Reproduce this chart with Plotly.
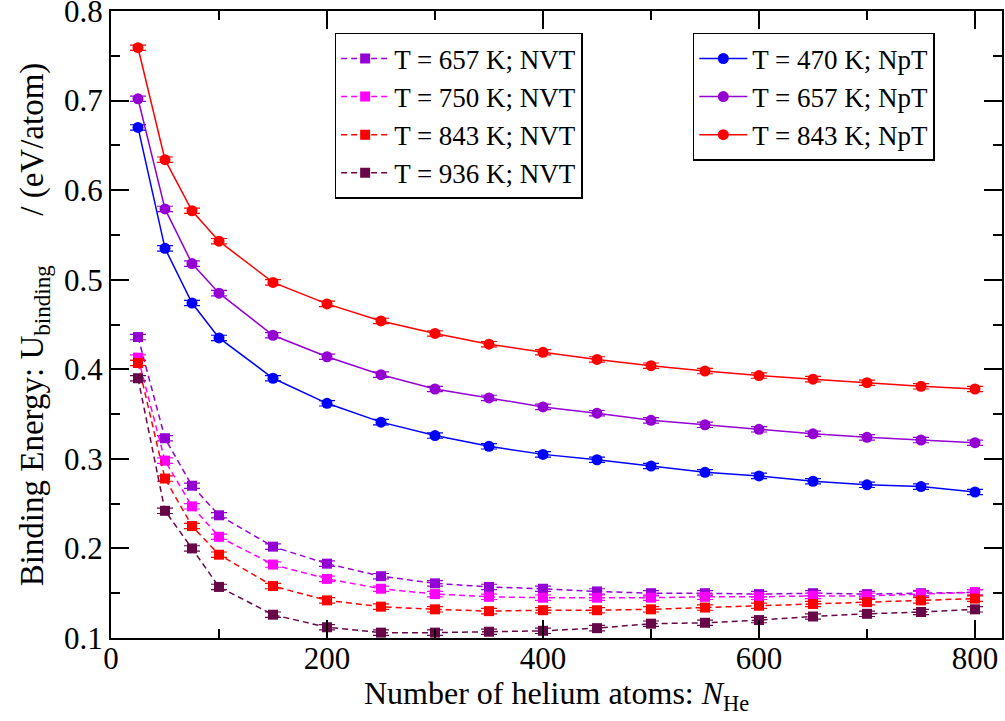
import plotly.graph_objects as go

N = [25, 50, 75, 100, 150, 200, 250, 300, 350, 400, 450, 500, 550, 600, 650, 700, 750, 800]

npt_470 = [0.670, 0.535, 0.474, 0.435, 0.390, 0.362, 0.341, 0.326, 0.314, 0.305, 0.299, 0.292,
           0.285, 0.281, 0.275, 0.271, 0.269, 0.263]
npt_657 = [0.702, 0.579, 0.518, 0.485, 0.438, 0.414, 0.394, 0.378, 0.368, 0.358, 0.351, 0.343,
           0.338, 0.333, 0.328, 0.324, 0.321, 0.318]
npt_843 = [0.759, 0.634, 0.577, 0.543, 0.497, 0.473, 0.454, 0.440, 0.428, 0.419, 0.411, 0.404,
           0.398, 0.393, 0.389, 0.385, 0.381, 0.378]

nvt_657 = [0.436, 0.323, 0.270, 0.237, 0.202, 0.183, 0.169, 0.161, 0.157, 0.155, 0.152, 0.150,
           0.150, 0.149, 0.150, 0.149, 0.150, 0.151]
nvt_750 = [0.413, 0.298, 0.247, 0.213, 0.182, 0.166, 0.155, 0.149, 0.146, 0.145, 0.145, 0.145,
           0.146, 0.146, 0.147, 0.147, 0.149, 0.151]
nvt_843 = [0.407, 0.278, 0.225, 0.193, 0.158, 0.142, 0.135, 0.132, 0.130, 0.131, 0.131, 0.132,
           0.134, 0.136, 0.138, 0.140, 0.142, 0.144]
nvt_936 = [0.390, 0.242, 0.200, 0.157, 0.126, 0.112, 0.106, 0.106, 0.107, 0.108, 0.111, 0.116,
           0.117, 0.120, 0.124, 0.127, 0.129, 0.132]

err = 0.003

x_ticks = [0, 200, 400, 600, 800]
y_ticks = [0.1, 0.2, 0.3, 0.4, 0.5, 0.6, 0.7, 0.8]
x_title = "Number of helium atoms: <i>N</i><sub>He</sub>"
y_title = "Binding Energy: U<sub>binding</sub>\u2003\u2002/ (eV/atom)"

BLUE = "#0000ff"
VIOLET = "#9400d3"
MAGENTA = "#ff00ff"
RED = "#ff0000"
MAROON = "#670748"

fig = go.Figure()

nvt = [("T = 657 K; NVT", nvt_657, VIOLET),
       ("T = 750 K; NVT", nvt_750, MAGENTA),
       ("T = 843 K; NVT", nvt_843, RED),
       ("T = 936 K; NVT", nvt_936, MAROON)]
npt = [("T = 470 K; NpT", npt_470, BLUE),
       ("T = 657 K; NpT", npt_657, VIOLET),
       ("T = 843 K; NpT", npt_843, RED)]

for name, ys, c in nvt:
    fig.add_trace(go.Scatter(
        x=N, y=ys, name=name, mode="lines+markers", legend="legend",
        line=dict(color=c, width=1.5, dash="6px,4px"),
        marker=dict(symbol="square", size=10, color=c),
        error_y=dict(type="constant", value=err, color=c, thickness=1.2, width=8),
    ))

for name, ys, c in npt:
    fig.add_trace(go.Scatter(
        x=N, y=ys, name=name, mode="lines+markers", legend="legend2",
        line=dict(color=c, width=1.5),
        marker=dict(symbol="circle", size=11, color=c),
        error_y=dict(type="constant", value=err, color=c, thickness=1.2, width=8),
    ))

FONT = "Liberation Serif, Times New Roman, serif"

axis_common = dict(
    showline=True, linecolor="black", linewidth=2, mirror="ticks",
    ticks="inside", ticklen=18, tickwidth=2, tickcolor="black",
    showgrid=False, zeroline=False, ticklabeloverflow="allow",
    tickfont=dict(family=FONT, size=31, color="black"),
)

fig.update_xaxes(
    range=[0, 825], tickvals=x_ticks, ticktext=[str(v) for v in x_ticks],
    ticklabelstandoff=-8,
    minor=dict(ticks="inside", ticklen=9, tickwidth=2, dtick=100, tick0=0, tickcolor="black", showgrid=False),
    **axis_common,
)
fig.update_yaxes(
    range=[0.1, 0.8], tickvals=y_ticks, ticktext=[f"{v:.1f}" for v in y_ticks],
    minor=dict(ticks="inside", ticklen=9, tickwidth=2, dtick=0.05, tick0=0.1, tickcolor="black", showgrid=False),
    title=dict(text=y_title, font=dict(family=FONT, size=33, color="black"), standoff=10),
    **axis_common,
)

fig.add_annotation(
    text=x_title, xref="paper", yref="paper", x=0.5, y=0,
    xanchor="center", yanchor="top", yshift=-35, showarrow=False,
    font=dict(family=FONT, size=32, color="black"),
)

legend_common = dict(
    bgcolor="white", bordercolor="black", borderwidth=1.5,
    font=dict(family=FONT, size=27, color="black"),
    xanchor="left", yanchor="top", tracegroupgap=0, itemwidth=48,
)

fig.update_layout(
    width=1005, height=721,
    margin=dict(l=111, r=3, t=11, b=83, autoexpand=False),
    paper_bgcolor="white", plot_bgcolor="white",
    legend=dict(x=0.251, y=0.965, **legend_common),
    legend2=dict(x=0.653, y=0.965, **legend_common),
    showlegend=True,
)

# remove the default 8px page margin so the figure fills the window exactly
fig.write_html("out.html", config={"displayModeBar": False},
               post_script="document.body.style.margin='0px';")
